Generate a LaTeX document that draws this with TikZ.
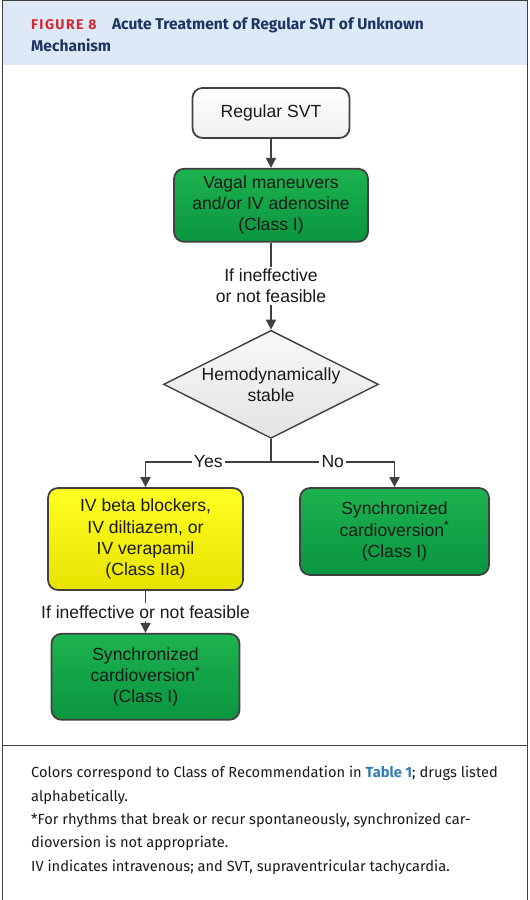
\documentclass[tikz,border=0pt]{standalone}
\usepackage{fontspec}
\setmainfont{Liberation Sans}
\newfontfamily\notefont{Fira Sans}
\usepackage{xcolor}
\usetikzlibrary{shapes.geometric, positioning, arrows.meta}
\definecolor{edge}{HTML}{404040}
\definecolor{ink}{HTML}{1A1A1A}
\definecolor{headband}{HTML}{DDE9F6}
\definecolor{figred}{HTML}{D7282F}
\definecolor{navy}{HTML}{1B3461}
\definecolor{tablink}{HTML}{2F7DB8}
\definecolor{greentop}{HTML}{1DB24F}
\definecolor{greenbot}{HTML}{0A9540}
\definecolor{yellowtop}{HTML}{FFFF22}
\definecolor{yellowbot}{HTML}{E8E200}
\tikzset{>={Triangle[length=0.3cm,width=0.3cm]},
node distance=0.87cm,
roundbox/.style={draw=edge, line width=1.5pt, rounded corners=0.3cm, align=center,
  text=ink, inner sep=0pt, font=\fontsize{15}{18}\selectfont},
plainbox/.style={roundbox, top color=white, bottom color=gray!12},
greenbox/.style={roundbox, top color=greentop, bottom color=greenbot},
yellowbox/.style={roundbox, top color=yellowtop, bottom color=yellowbot},
decision/.style={diamond, aspect=2, draw=edge, line width=1.2pt, top color=gray!5, bottom color=gray!22,
  align=center, text=ink, inner sep=0pt, minimum width=6.45cm, minimum height=3.24cm,
  font=\fontsize{15}{18}\selectfont},
flow/.style={draw=edge, line width=1.5pt},
lbl/.style={fill=white, text=ink, align=center, inner sep=2pt, font=\fontsize{15}{18}\selectfont}}

\begin{document}
\begin{tikzpicture}
\useasboundingbox (0,0) rectangle (15.87,-27);
\fill[headband] (0.06,0) rectangle (15.81,-1.95);
\draw[edge, line width=0.8pt] (0.06,-27) -- (0.06,0) -- (15.81,0) -- (15.81,-27);
\draw[edge, line width=0.8pt] (0.06,-22.35) -- (15.81,-22.35);
\node[anchor=west, align=left, inner sep=0pt, text=navy,
  font=\notefont\bfseries\fontsize{13.3}{18.7}\selectfont] (title) at (0.93,-1.05)
  {{\color{figred}\addfontfeatures{LetterSpace=10}\fontsize{12}{18.7}\selectfont FIGURE 8}\quad Acute Treatment of Regular SVT of Unknown\\Mechanism};

\node[plainbox, minimum width=4.71cm, minimum height=1.5cm] (svt) at (8.13,-3.39) {Regular SVT};
\node[greenbox, minimum width=5.82cm, minimum height=2.19cm, below=of svt] (vagal)
  {Vagal maneuvers\\and/or IV adenosine\\(Class I)};
\node[decision, below=2.61cm of vagal] (stable) {Hemodynamically\\stable};
\coordinate (split) at (8.13,-13.86);
\node[yellowbox, minimum width=5.85cm, minimum height=3.06cm] (drugs) at (4.365,-16.17)
  {IV beta blockers,\\IV diltiazem, or\\IV verapamil\\(Class IIa)};
\node[greenbox, minimum width=5.67cm, minimum height=2.61cm] (cvnow) at (11.835,-15.945)
  {Synchronized\\cardioversion\textsuperscript{*}\\(Class I)};
\node[greenbox, minimum width=5.64cm, minimum height=2.58cm, below=1.26cm of drugs] (cvlater)
  {Synchronized\\cardioversion\textsuperscript{*}\\(Class I)};

\draw[flow, ->] (svt) -- (vagal);
\draw[flow, ->] (vagal) -- node[lbl]{If ineffective\\or not feasible} (stable);
\draw[flow] (stable) -- (split);
\draw[flow, ->] (split) -| node[lbl, pos=0.25]{Yes} (drugs);
\draw[flow, ->] (split) -| node[lbl, pos=0.25]{No} (cvnow);
\draw[flow, ->] (drugs) -- node[lbl]{If ineffective or not feasible} (cvlater);

\node[anchor=north west, align=left, inner sep=0pt, text=ink,
  font=\notefont\fontsize{12.5}{20}\selectfont] (notes) at (0.93,-22.98)
  {Colors correspond to Class of Recommendation in {\bfseries\color{tablink}Table 1}; drugs listed\\
   alphabetically.\\
   *For rhythms that break or recur spontaneously, synchronized car-\\
   dioversion is not appropriate.\\
   IV indicates intravenous; and SVT, supraventricular tachycardia.};
\end{tikzpicture}
\end{document}
